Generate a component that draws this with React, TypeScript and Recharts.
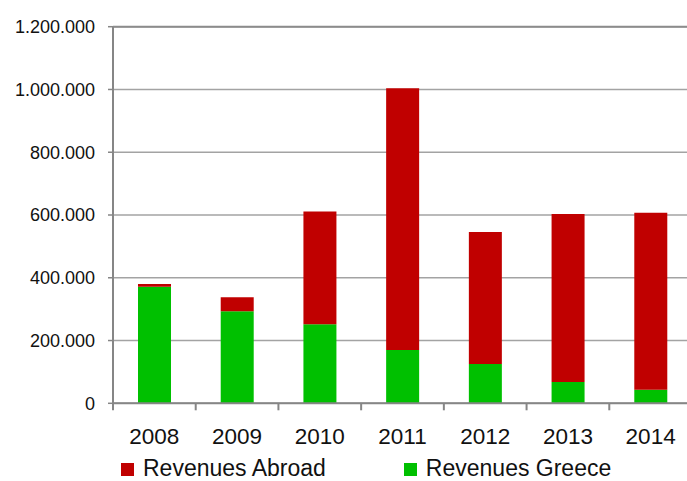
import React from 'react';
import { BarChart, Bar, XAxis, YAxis, CartesianGrid, Legend, ReferenceLine } from 'recharts';

const years = ['2008', '2009', '2010', '2011', '2012', '2013', '2014'];
const revenuesGreece = [371000, 293000, 252000, 170000, 125000, 68000, 43000];
const revenuesAbroad = [9000, 45000, 359000, 834000, 421000, 535000, 564000];
const yTicks = [0, 200000, 400000, 600000, 800000, 1000000, 1200000];

const seriesNames = { abroad: 'Revenues Abroad', greece: 'Revenues Greece' };
const colors = { abroad: '#C00000', greece: '#00C000' };

const data = years.map((y, i) => ({ year: y, greece: revenuesGreece[i], abroad: revenuesAbroad[i] }));

const CHART_W = 692;
const CHART_H = 481;
const Y_AXIS_W = 113;
const LEGEND_H = 26;
const BAND = (CHART_W - Y_AXIS_W) / years.length;
const FONT = "'Liberation Sans', Arial, sans-serif";
const AXIS_COLOR = '#868686';

const fmt = (v: number) => String(v).replace(/\B(?=(\d{3})+(?!\d))/g, '.');

const XTick = (props: any) => {
  const { x, y, payload } = props;
  return (
    <g>
      <line x1={x - BAND / 2} x2={x - BAND / 2} y1={y} y2={y + 7} stroke={AXIS_COLOR} strokeWidth={2} />
      <text x={x} y={y + 41} textAnchor="middle" fontSize={22.5} fontFamily={FONT} fill="#111">
        {payload.value}
      </text>
    </g>
  );
};

const LegendContent = () => {
  const items = [
    { key: 'abroad', name: seriesNames.abroad, color: colors.abroad },
    { key: 'greece', name: seriesNames.greece, color: colors.greece },
  ];
  return (
    <div style={{ display: 'flex', alignItems: 'center', height: LEGEND_H, paddingLeft: 121, fontFamily: FONT, fontSize: 23, lineHeight: LEGEND_H + 'px', color: '#111' }}>
      {items.map((it, i) => (
        <div key={it.key} style={{ display: 'flex', alignItems: 'center', marginLeft: i === 0 ? 0 : 78, whiteSpace: 'nowrap' }}>
          <span style={{ display: 'inline-block', width: 13, height: 13, background: it.color, marginRight: 9, marginTop: 3 }} />
          <span>{it.name}</span>
        </div>
      ))}
    </div>
  );
};

export default function App() {
  return (
    <div style={{ position: 'absolute', left: 0, top: 0, width: 687, height: 481, overflow: 'hidden', background: '#fff' }}>
      <BarChart width={CHART_W} height={CHART_H} data={data} margin={{ top: 26.7, right: 0, left: 0, bottom: 0 }} barSize={33}>
        <CartesianGrid vertical={false} stroke="#a3a3a3" strokeWidth={1.5} />
        <XAxis
          dataKey="year"
          height={CHART_H - LEGEND_H - 403.3}
          axisLine={{ stroke: AXIS_COLOR, strokeWidth: 2 }}
          tickLine={false}
          tickSize={0}
          tickMargin={0}
          tick={<XTick />}
          interval={0}
        />
        <YAxis
          width={Y_AXIS_W}
          domain={[0, 1200000]}
          ticks={yTicks}
          tickFormatter={fmt}
          axisLine={{ stroke: AXIS_COLOR, strokeWidth: 2 }}
          tickLine={{ stroke: AXIS_COLOR, strokeWidth: 1.5 }}
          tickSize={5}
          tickMargin={13}
          tick={{ fontSize: 18, fontFamily: FONT, fill: '#111' }}
          allowDataOverflow
        />
        <ReferenceLine y={1200000} stroke="#8c8c8c" strokeWidth={2} />
        <Bar dataKey="greece" name={seriesNames.greece} stackId="a" fill={colors.greece} isAnimationActive={false} />
        <Bar dataKey="abroad" name={seriesNames.abroad} stackId="a" fill={colors.abroad} isAnimationActive={false} />
        <Legend verticalAlign="bottom" content={<LegendContent />} wrapperStyle={{ left: 0, width: 687, bottom: 0 }} />
      </BarChart>
    </div>
  );
}
